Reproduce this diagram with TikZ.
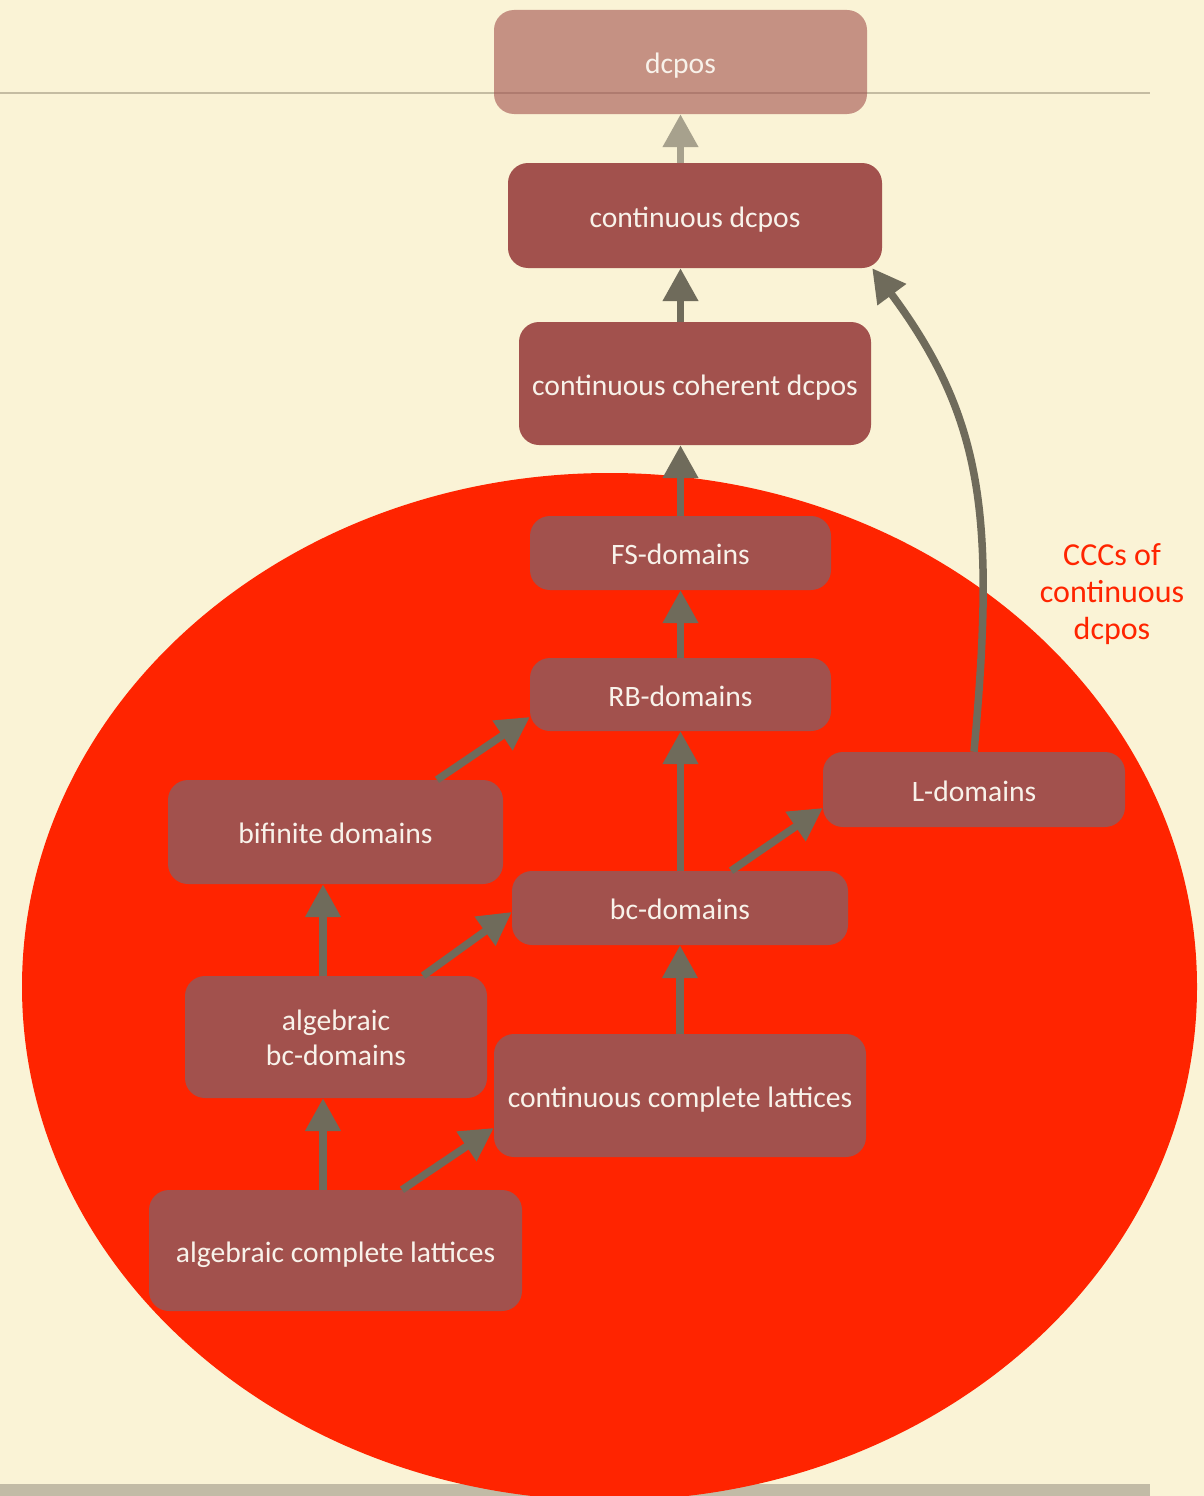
\documentclass[tikz,border=0pt]{standalone}
\usepackage{fontspec}
\setmainfont{Carlito}
\usetikzlibrary{arrows.meta}

\definecolor{paper}{RGB}{250,243,214}
\definecolor{rule}{RGB}{196,188,162}
\definecolor{footbar}{RGB}{194,187,166}
\definecolor{hot}{RGB}{255,36,0}
\definecolor{boxfill}{RGB}{162,81,77}
\definecolor{boxtext}{RGB}{248,242,234}
\definecolor{arrowgray}{RGB}{111,107,91}
\definecolor{arrowpale}{RGB}{167,161,141}

\begin{document}
\begin{tikzpicture}[x=1pt, y=-1pt,
  box/.style={fill=boxfill, rounded corners=20pt, text=boxtext,
    align=center, inner sep=0pt, font=\fontsize{29.6}{35}\selectfont,
    text height=28pt, text depth=5pt},
  arr/.style={draw=arrowgray, line width=7.5pt,
    -{Triangle[length=33pt,width=34pt]}},
  palearr/.style={arr, draw=arrowpale},
]
% page and background
\useasboundingbox (0,0) rectangle (1204,1496);
\fill[paper] (0,0) rectangle (1204,1496);
\draw[rule, line width=2pt] (0,92.5) -- (1150,92.5);
\fill[footbar] (0,1484) rectangle (1150,1496);

% the region of cartesian closed categories
\fill[hot] (609.5,986.7) ellipse [x radius=587.5pt, y radius=513.7pt];
\node[text=hot, align=center, inner sep=0pt,
  font=\fontsize{32}{37}\selectfont] (ccc) at (1112,594)
  {CCCs of\\continuous\\dcpos};

% classes of domains
\node[box, fill opacity=0.6, text opacity=1, minimum width=373pt, minimum height=104pt]
  (dcpos) at (680.5,62) {dcpos};
\node[box, minimum width=374pt, minimum height=105pt]
  (cdcpos) at (695,215.5) {continuous dcpos};
\node[box, minimum width=352pt, minimum height=123pt]
  (ccoh) at (695,383.5) {continuous coherent dcpos};
\node[box, minimum width=301pt, minimum height=74pt]
  (fs) at (680.5,553) {FS-domains};
\node[box, minimum width=301pt, minimum height=73pt]
  (rb) at (680.5,694.5) {RB-domains};
\node[box, minimum width=302pt, minimum height=75pt]
  (ld) at (974,789.5) {L-domains};
\node[box, minimum width=335pt, minimum height=104pt]
  (bif) at (335.5,832) {bifinite domains};
\node[box, minimum width=336pt, minimum height=74pt]
  (bc) at (680,908) {bc-domains};
\node[box, minimum width=302pt, minimum height=122pt, text height=62pt]
  (abc) at (336,1037) {algebraic\\bc-domains};
\node[box, minimum width=372pt, minimum height=123pt]
  (ccl) at (680,1095.5) {continuous complete lattices};
\node[box, minimum width=373pt, minimum height=121pt]
  (acl) at (335.5,1250.5) {algebraic complete lattices};

\coordinate (leftcol) at (323,0);

% inclusions
\draw[palearr] (cdcpos.north -| fs) -- (dcpos.south -| fs);
\draw[arr] (ccoh.north -| fs) -- (cdcpos.south -| fs);
\draw[arr] (fs.north) -- (ccoh.south -| fs);
\draw[arr] (rb.north) -- (fs.south);
\draw[arr] (bc.north -| rb) -- (rb.south);
\draw[arr] ([xshift=51pt]bc.north) -- ([yshift=-18.5pt]ld.west);
\draw[arr] ([xshift=101.5pt]bif.north) -- ([yshift=-22.5pt]rb.west);
\draw[arr] (abc.north -| leftcol) -- (bif.south -| leftcol);
\draw[arr] ([xshift=87pt]abc.north) -- ([yshift=-4pt]bc.west);
\draw[arr] (ccl.north) -- (bc.south);
\draw[arr] (acl.north -| leftcol) -- (abc.south -| leftcol);
\draw[arr] ([xshift=66.5pt]acl.north) -- ([yshift=-32.5pt]ccl.west);
\draw[arr] (ld.north) .. controls (995,520) and (985,420) .. ([xshift=-10pt]cdcpos.south east);
\end{tikzpicture}
\end{document}
